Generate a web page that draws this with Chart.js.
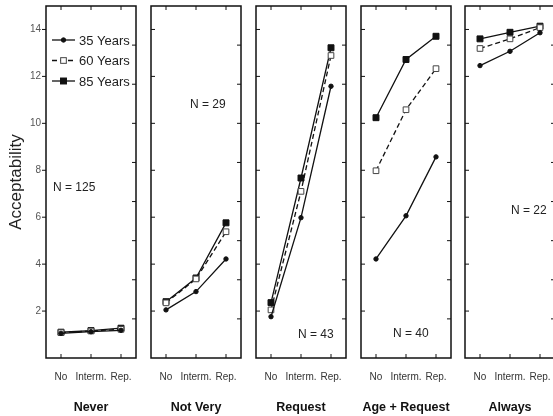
<!DOCTYPE html>
<html>
<head>
<meta charset="utf-8">
<script src="https://cdn.jsdelivr.net/npm/chart.js@4"></script>
<style>
  body { margin: 0; background: #fff; }
  #wrap { position: relative; width: 553px; height: 416px; overflow: hidden; }
  #wrap canvas { position: absolute; top: 0; }
</style>
</head>
<body>
<div id="wrap"></div>
<script>
// data
const categories = ['No', 'Interm.', 'Rep.'];
const panelTitles = ['Never', 'Not Very', 'Request', 'Age + Request', 'Always'];
const panelN = ['N = 125', 'N = 29', 'N = 43', 'N = 40', 'N = 22'];
const seriesNames = ['35 Years', '60 Years', '85 Years'];
const years35 = [[1.05, 1.12, 1.18], [2.05, 2.83, 4.22], [1.76, 5.98, 11.58], [4.22, 6.06, 8.57], [12.46, 13.07, 13.86]];
const years60 = [[1.08, 1.15, 1.22], [2.35, 3.37, 5.38], [2.05, 7.1, 12.89], [7.98, 10.58, 12.33], [13.19, 13.6, 14.08]];
const years85 = [[1.1, 1.17, 1.27], [2.4, 3.41, 5.76], [2.36, 7.67, 13.22], [10.24, 12.72, 13.71], [13.6, 13.88, 14.14]];
const yTicks = [2, 4, 6, 8, 10, 12, 14];

// layout (pixels)
const panelLeft = [46, 151, 256, 361, 465];
const panelWidth = 90;
const nLabelPos = [[7, 182], [39, 99], [42, 329], [32, 328], [46, 205]]; // offset from chart area left/top

const ink = '#111';

const framePlugin = {
    id: 'panelFrame',
    afterDraw(chart, args, opts) {
        const { ctx, chartArea: a, scales } = chart;
        const line = (x1, y1, x2, y2) => { ctx.beginPath(); ctx.moveTo(x1, y1); ctx.lineTo(x2, y2); ctx.stroke(); };
        ctx.save();
        ctx.strokeStyle = ink;
        ctx.lineWidth = 1;
        // ticks top and bottom, pointing in
        categories.forEach((c, i) => {
            const px = scales.x.getPixelForValue(i);
            line(px, a.top, px, a.top + 4);
            line(px, a.bottom, px, a.bottom - 4);
        });
        // left ticks
        yTicks.forEach(v => {
            const py = scales.y.getPixelForValue(v);
            if (opts.first) line(a.left - 4, py, a.left, py);
            else line(a.left, py, a.left + 4, py);
        });
        // right ticks
        for (let k = 1; k < 9; k++) {
            const py = scales.y2.getPixelForValue(k);
            line(a.right - 4, py, a.right, py);
        }
        ctx.lineWidth = 1.5;
        ctx.strokeRect(a.left, a.top, a.width, a.height);

        // N label
        ctx.fillStyle = '#222';
        ctx.font = '12px "Liberation Sans", Arial, sans-serif';
        ctx.textAlign = 'left';
        ctx.textBaseline = 'middle';
        ctx.fillText(opts.n, a.left + opts.nPos[0], a.top + opts.nPos[1]);

        // legend in the first panel
        if (opts.first) {
            ctx.font = '13px "Liberation Sans", Arial, sans-serif';
            chart.data.datasets.forEach((ds, i) => {
                const yy = a.top + 34 + i * 20.5;
                const x1 = a.left + 6, x2 = a.left + 29, xm = (x1 + x2) / 2;
                ctx.strokeStyle = ink;
                ctx.lineWidth = 1.3;
                ctx.setLineDash(ds.borderDash || []);
                line(x1, yy, x2, yy);
                ctx.setLineDash([]);
                ctx.fillStyle = ds.pointBackgroundColor;
                ctx.strokeStyle = ds.pointBorderColor;
                ctx.lineWidth = 1;
                if (ds.pointStyle === 'circle') {
                    ctx.beginPath(); ctx.arc(xm, yy, ds.pointRadius, 0, Math.PI * 2); ctx.fill(); ctx.stroke();
                } else {
                    const s = ds.pointRadius * Math.SQRT1_2;
                    ctx.fillRect(xm - s, yy - s, 2 * s, 2 * s);
                    ctx.strokeRect(xm - s, yy - s, 2 * s, 2 * s);
                }
                ctx.fillStyle = '#222';
                ctx.fillText(ds.label, x2 + 4, yy + 1);
            });
        }
        ctx.restore();
    }
};

function makePanel(p) {
    const first = p === 0;
    const canvas = document.createElement('canvas');
    const w = first ? panelLeft[0] + panelWidth + 6 : panelWidth + 12;
    canvas.width = w;
    canvas.height = 416;
    canvas.style.left = (first ? 0 : panelLeft[p] - 6) + 'px';
    document.getElementById('wrap').appendChild(canvas);

    new Chart(canvas.getContext('2d'), {
        type: 'line',
        data: {
            labels: categories,
            datasets: [
                {
                    label: seriesNames[0], data: years35[p],
                    borderColor: ink, borderWidth: 1.3,
                    pointStyle: 'circle', pointRadius: 2.2,
                    pointBackgroundColor: ink, pointBorderColor: ink, pointBorderWidth: 1
                },
                {
                    label: seriesNames[1], data: years60[p],
                    borderColor: ink, borderWidth: 1.3, borderDash: [5, 3],
                    pointStyle: 'rect', pointRadius: 4,
                    pointBackgroundColor: '#fff', pointBorderColor: '#444', pointBorderWidth: 1
                },
                {
                    label: seriesNames[2], data: years85[p],
                    borderColor: ink, borderWidth: 1.3,
                    pointStyle: 'rect', pointRadius: 4.2,
                    pointBackgroundColor: ink, pointBorderColor: ink, pointBorderWidth: 1
                }
            ]
        },
        options: {
            responsive: false,
            animation: false,
            events: [],
            layout: { padding: { top: 6, right: 6, left: first ? 0 : 6, bottom: 0 } },
            plugins: {
                legend: { display: false },
                tooltip: { enabled: false },
                panelFrame: { first: first, n: panelN[p], nPos: nLabelPos[p] }
            },
            scales: {
                x: {
                    type: 'category',
                    offset: true,
                    grid: { display: false, drawTicks: false },
                    border: { display: false },
                    ticks: {
                        color: '#333', padding: 13, maxRotation: 0, minRotation: 0, autoSkip: false,
                        font: { family: '"Liberation Sans", Arial, sans-serif', size: 10 }
                    },
                    title: {
                        display: true, text: panelTitles[p], color: ink,
                        font: { family: '"Liberation Sans", Arial, sans-serif', size: 12.5, weight: 'bold' },
                        padding: { top: 0, bottom: 1 }
                    },
                    afterFit(scale) {
                        scale.height = 58;
                        scale.paddingLeft = 0;
                        scale.paddingRight = 0;
                    }
                },
                y: {
                    display: first,
                    min: 0, max: 15,
                    afterBuildTicks(scale) { scale.ticks = yTicks.map(v => ({ value: v })); },
                    grid: { display: false, drawTicks: false },
                    border: { display: false },
                    ticks: {
                        color: '#555', padding: 5,
                        font: { family: '"Liberation Sans", Arial, sans-serif', size: 10 }
                    },
                    title: {
                        display: true, text: 'Acceptability', color: '#222',
                        font: { family: '"Liberation Sans", Arial, sans-serif', size: 17 },
                        padding: { top: 6, bottom: 0 }
                    },
                    afterFit(scale) {
                        if (first) scale.width = panelLeft[0];
                        scale.paddingTop = 0;
                        scale.paddingBottom = 0;
                    }
                },
                y2: { display: false, min: 0, max: 9 }
            }
        },
        plugins: [framePlugin]
    });
}

for (let p = 0; p < panelTitles.length; p++) makePanel(p);
</script>
</body>
</html>
